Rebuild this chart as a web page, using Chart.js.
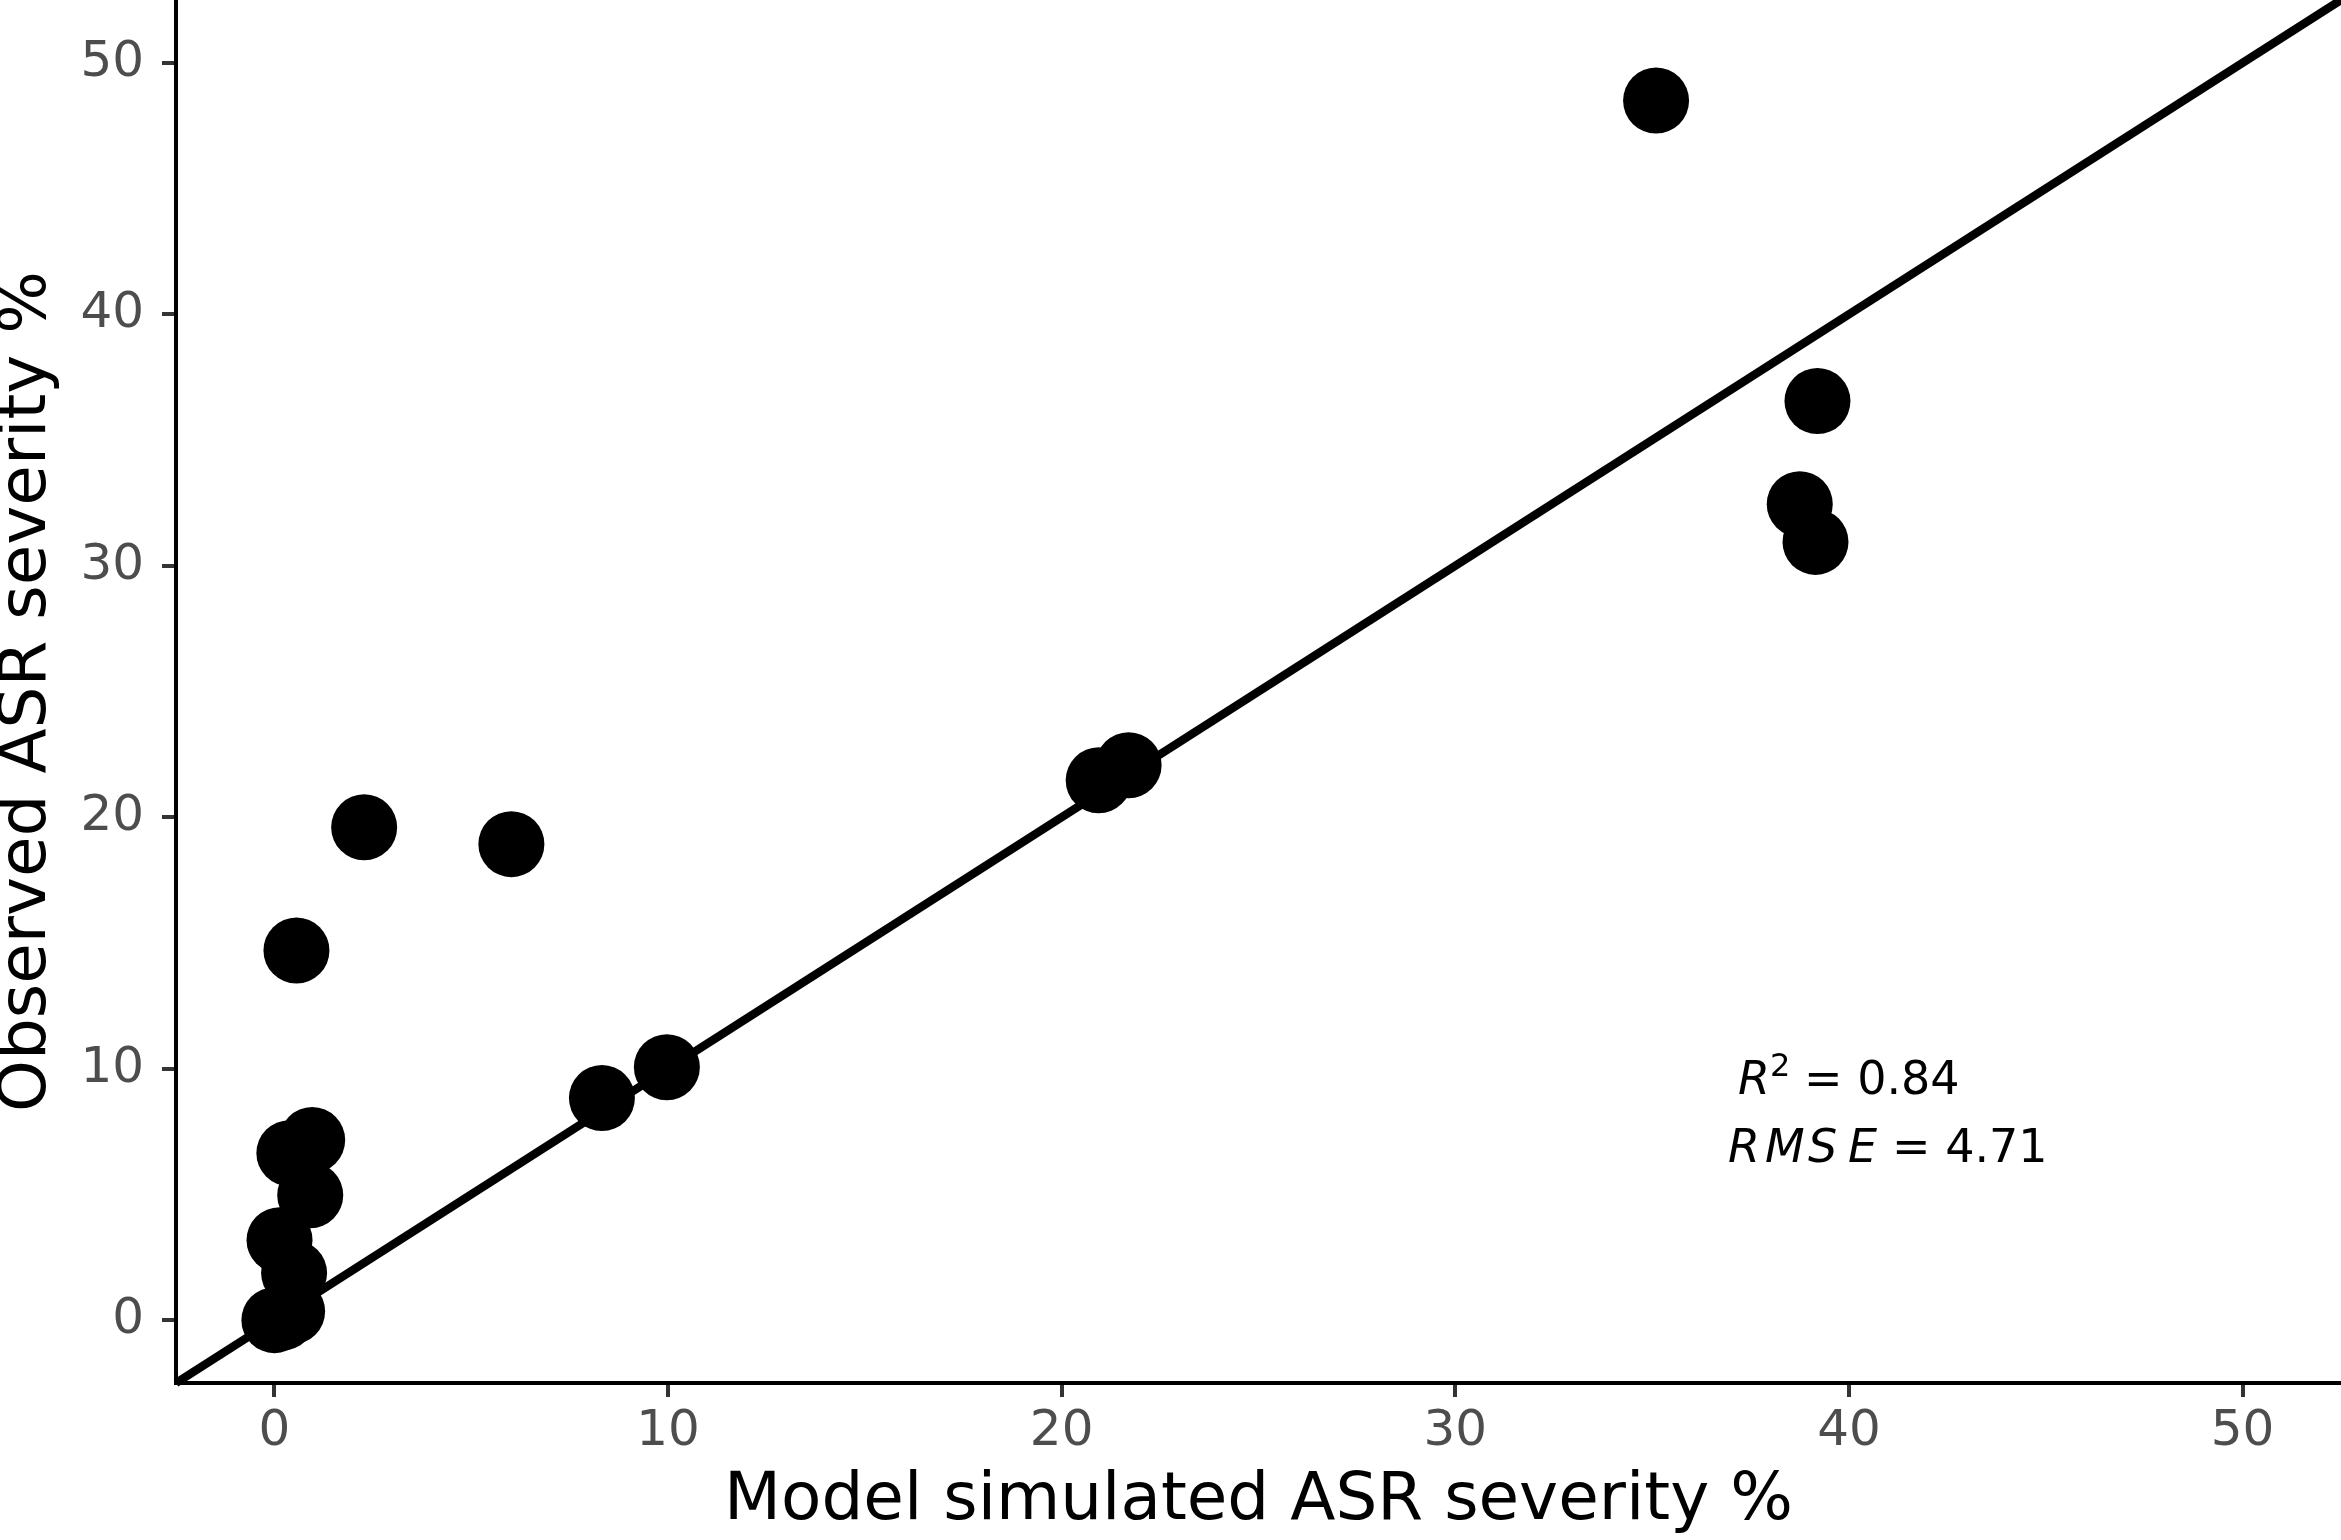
<!DOCTYPE html>
<html>
<head>
<meta charset="utf-8">
<script src="https://cdn.jsdelivr.net/npm/chart.js@4.4.1/dist/chart.umd.min.js"></script>
<style>
html,body{margin:0;padding:0;background:#fff;}
#wrap{width:2341px;height:1540px;position:relative;}
</style>
</head>
<body>
<div id="wrap"><canvas id="c" width="2341" height="1540"></canvas></div>
<script>
// Model simulated ASR severity % (x) vs observed ASR severity % (y)
const simulated = [35.1, 39.2, 38.75, 39.15, 21.7, 20.94, 2.28, 6.02, 0.56, 9.97, 8.32,
                   0.96, 0.38, 0.91, 0.13, 0.5, 0.45, 0.2, 0.0];
const observed  = [48.5, 36.55, 32.45, 30.95, 22.07, 21.47, 19.6, 18.93, 14.7, 10.06, 8.83,
                   7.16, 6.64, 4.97, 3.18, 1.87, 0.35, 0.1, 0.0];
// 1:1 reference line
const lineX = [-2.5, 52.5];
const lineY = [-2.5, 52.5];
const xTicks = [0, 10, 20, 30, 40, 50];
const yTicks = [0, 10, 20, 30, 40, 50];
const axisMin = -2.5, axisMax = 52.5;
const xTitle = 'Model simulated ASR severity %';
const yTitle = 'Observed ASR severity %';
const r2Value = '0.84';
const rmseValue = '4.71';

const points = simulated.map((x, i) => ({x: x, y: observed[i]}));
const linePts = lineX.map((x, i) => ({x: x, y: lineY[i]}));

const FONT = "'DejaVu Sans', 'Liberation Sans', sans-serif";

const annot = {
  id: 'annot',
  afterDraw(chart) {
    const ctx = chart.ctx;
    ctx.save();
    ctx.fillStyle = '#000';
    ctx.textBaseline = 'alphabetic';
    ctx.textAlign = 'left';
    // R^2 = 0.84
    ctx.font = "italic 46px " + FONT;
    ctx.fillText('R', 1738, 1094);
    ctx.font = "32px " + FONT;
    ctx.fillText('2', 1770, 1076);
    ctx.font = "46px " + FONT;
    ctx.fillText('= ' + r2Value, 1804, 1094);
    // RMSE = 4.71
    ctx.font = "italic 46px " + FONT;
    const letters = ['R', 'M', 'S', 'E'];
    const lx = [1728, 1765, 1808, 1848];
    letters.forEach((l, i) => ctx.fillText(l, lx[i], 1162));
    ctx.font = "46px " + FONT;
    ctx.fillText('= ' + rmseValue, 1892, 1162);
    ctx.restore();
  }
};

function tickSetter(arr) {
  return function(scale) { scale.ticks = arr.map(v => ({value: v})); };
}

new Chart(document.getElementById('c'), {
  data: {
    datasets: [
      {
        type: 'line',
        data: linePts,
        borderColor: '#000',
        borderWidth: 8.5,
        pointRadius: 0,
        fill: false,
        tension: 0,
        clip: false
      },
      {
        type: 'scatter',
        data: points,
        pointRadius: 33,
        pointHoverRadius: 33,
        backgroundColor: '#000',
        borderWidth: 0
      }
    ]
  },
  options: {
    responsive: false,
    animation: false,
    devicePixelRatio: 1,
    layout: {padding: 0, autoPadding: false},
    plugins: {legend: {display: false}, tooltip: {enabled: false}},
    scales: {
      x: {
        type: 'linear',
        position: 'bottom',
        min: axisMin, max: axisMax,
        afterBuildTicks: tickSetter(xTicks),
        afterFit(scale) { scale.height = 157; scale.paddingLeft = 0; scale.paddingRight = 0; },
        border: {display: true, color: '#000', width: 4},
        grid: {display: true, drawOnChartArea: false, drawTicks: true, tickLength: 14, color: '#333333', lineWidth: 4},
        ticks: {color: '#4D4D4D', font: {family: FONT, size: 50}, padding: 5, maxRotation: 0},
        title: {display: true, text: xTitle, color: '#000', font: {family: FONT, size: 66, lineHeight: 0.85}, padding: {top: 0, bottom: 10}}
      },
      y: {
        type: 'linear',
        position: 'left',
        min: axisMin, max: axisMax,
        afterBuildTicks: tickSetter(yTicks),
        afterFit(scale) { scale.width = 176; scale.paddingTop = 0; scale.paddingBottom = 0; },
        border: {display: true, color: '#000', width: 4},
        grid: {display: true, drawOnChartArea: false, drawTicks: true, tickLength: 14, color: '#333333', lineWidth: 4},
        ticks: {color: '#4D4D4D', font: {family: FONT, size: 50}, padding: 18},
        title: {display: true, text: yTitle, color: '#000', font: {family: FONT, size: 66, lineHeight: 0.85}, padding: {top: 0, bottom: 0}}
      }
    }
  },
  plugins: [annot]
});
</script>
</body>
</html>
